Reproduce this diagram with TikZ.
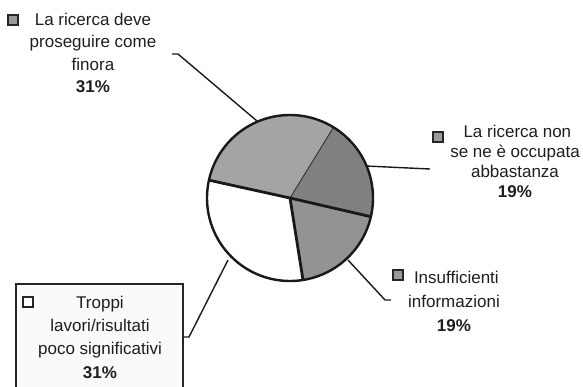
\documentclass[tikz,border=0pt]{standalone}
\usepackage{fontspec}
\setmainfont{Liberation Sans}
\definecolor{slA}{HTML}{A4A4A4}
\definecolor{slB}{HTML}{808080}
\definecolor{slC}{HTML}{939393}
\definecolor{sqfill}{HTML}{9A9A9A}
\definecolor{txt}{HTML}{1E1E1E}
\tikzset{
  lbl/.style={align=center, text=txt, inner sep=0pt, font=\fontsize{17}{22.5}\selectfont},
  leader/.style={draw=black!90, line width=1.4pt},
  sep/.style={draw=black!90, line width=2.8pt},
  legsq/.style={draw=black!85, line width=2pt, fill=sqfill, minimum size=10pt, inner sep=0pt},
}
\begin{document}
\begin{tikzpicture}[x=1pt, y=-1pt]
\useasboundingbox (0,0) rectangle (583,386);
\coordinate (c) at (290,198);
% slices (angles negated because y points down)
\fill[slA] (c) -- ++(-167.6:83) arc[start angle=-167.6, end angle=-58.4, radius=83] -- cycle;
\fill[slB] (c) -- ++(-58.4:83) arc[start angle=-58.4, end angle=13, radius=83] -- cycle;
\fill[slC] (c) -- ++(13:83) arc[start angle=13, end angle=81, radius=83] -- cycle;
\fill[white] (c) -- ++(81:83) arc[start angle=81, end angle=192.4, radius=83] -- cycle;
\draw[draw=black!80, line width=0.9pt] (c) -- ++(-58.4:83);
\draw[sep] (c) -- ++(-167.6:83);
\draw[sep] (c) -- ++(13:83);
\draw[sep] (c) -- ++(81:83);
\draw[draw=black!90, line width=2.4pt] (c) circle[radius=83];

% labels
\node[lbl] (t1) at (93,53) {La ricerca deve\\proseguire come\\finora\\\textbf{31\%}};
\node[legsq] (q1) at (13,20) {};
\node[lbl, font=\fontsize{17}{20}\selectfont] (t2) at (515,161) {\phantom{I}La ricerca non\\se ne è occupata\\abbastanza\\\textbf{19\%}};
\node[legsq] (q2) at (438,137) {};
\node[lbl, font=\fontsize{17}{24}\selectfont] (t3) at (454,301) {\phantom{I}Insufficienti\\informazioni\\\textbf{19\%}};
\node[legsq] (q3) at (398,275) {};
\draw[draw=black!85, line width=1.8pt, fill=white!98!black] (16,284) rectangle (183,392);
\node[lbl, font=\fontsize{17}{23.3}\selectfont] (t4) at (100,337) {Troppi\\lavori/risultati\\poco significativi\\\textbf{31\%}};
\node[legsq, fill=white] (q4) at (28,302) {};
\coordinate (b4) at (183,337);

% leaders
\coordinate (k1) at (172,54);
\coordinate (k1b) at (178,54);
\coordinate (p1) at (257,121);
\draw[leader] (k1) -- (k1b) -- (p1);
\coordinate (p2) at (366,166);
\coordinate (k2) at (430,169);
\draw[leader] (p2) -- (k2);
\coordinate (p3) at (348,260);
\coordinate (k3) at (385,300);
\coordinate (k3b) at (391,300);
\draw[leader] (p3) -- (k3) -- (k3b);
\coordinate (p4) at (228,260);
\coordinate (k4) at (189,337);
\draw[leader] (p4) -- (k4) -- (b4);
\end{tikzpicture}
\end{document}
